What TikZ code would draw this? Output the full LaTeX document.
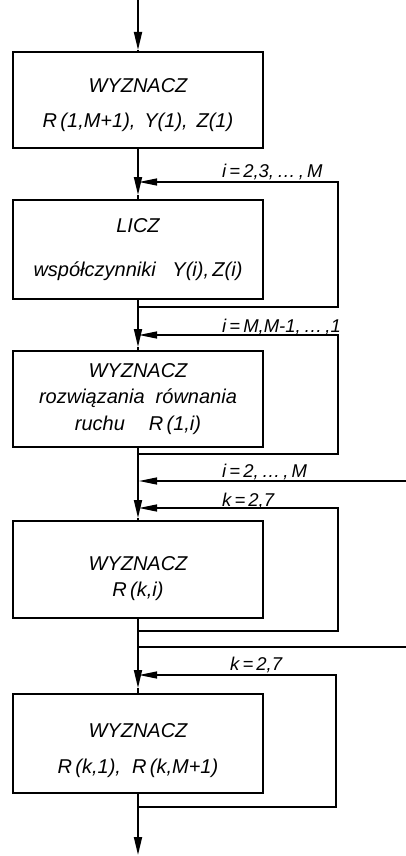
\documentclass[tikz,border=0pt]{standalone}
\usepackage{fontspec}
\setmainfont{Liberation Sans}
\usetikzlibrary{arrows.meta}
\begin{document}
\begin{tikzpicture}[x=1pt,y=-1pt,
  box/.style={draw,line width=2.2pt,minimum width=250pt,inner sep=0pt},
  txt/.style={align=center,inner sep=0pt,font=\fontsize{20}{24}\selectfont\itshape},
  mainline/.style={line width=1.8pt},
  loopline/.style={line width=1.3pt},
  dtip/.style={-{Triangle[length=18pt,width=8pt]}},
  ltip/.style={-{Triangle[length=18pt,width=7pt]}},
  lab/.style={font=\fontsize{18.5}{22}\selectfont\itshape,anchor=base west,inner sep=0pt}]
\useasboundingbox (0,0) rectangle (406,856);

% boxes
\node[box,minimum height=96pt] (b1) at (138,100) {};
\node[txt] (t1) at (138,105) {WYZNACZ\\[10.5pt] R\,(1,M+1),\, Y(1),\, Z(1)};
\node[box,minimum height=99pt] (b2) at (138,249.5) {};
\node[txt] (t2) at (138,249.5) {LICZ\\[20pt] współczynniki\ \ \ Y(i),\,Z(i)};
\node[box,minimum height=96pt] (b3) at (138,399) {};
\node[txt] (t3) at (138,399) {WYZNACZ\\[2.5pt] rozwiązania\ \ równania\\[2.5pt] ruchu\hspace{24pt}R\,(1,i)};
\node[box,minimum height=97pt] (b4) at (138,569.5) {};
\node[txt] (t4) at (138,579) {WYZNACZ\\[2pt] R\,(k,i)};
\node[box,minimum height=99pt] (b5) at (138,743.5) {};
\node[txt] (t5) at (138,751) {WYZNACZ\\[12pt] R\,(k,1),\ \ R\,(k,M+1)};

% coordinates on the main line
\coordinate (top) at (138,0);
\coordinate (t0) at (138,50);
\coordinate (j1) at (138,195);
\coordinate (j2) at (138,347);
\coordinate (j3) at (138,518);
\coordinate (j4) at (138,688);
\coordinate (bot) at (138,855);

% main flow
\draw[mainline,dtip] (top) -- (t0);
\draw[mainline] (t0) -- (b1.north);
\draw[mainline,dtip] (b1.south) -- (j1);
\draw[mainline] (j1) -- (b2.north);
\draw[mainline,dtip] (b2.south) -- (j2);
\draw[mainline] (j2) -- (b3.north);
\draw[mainline,dtip] (b3.south) -- (j3);
\draw[mainline] (j3) -- (b4.north);
\draw[mainline,dtip] (b4.south) -- (j4);
\draw[mainline] (j4) -- (b5.north);
\draw[mainline,dtip] (b5.south) -- (bot);

% loop 1
\coordinate (l1s) at (138,307);
\coordinate (l1e) at (139,182);
\draw[loopline,ltip] (l1s) -- (338,307) -- (338,182) -- (l1e);
\node[lab] (lab1) at (222,177) {i\,=\,2,3,\,…\,,\,M};

% loop 2
\coordinate (l2s) at (138,454);
\coordinate (l2e) at (139,335);
\draw[loopline,ltip] (l2s) -- (338,454) -- (338,335) -- (l2e);
\node[lab] (lab2) at (222,332) {i\,=\,M,M-1,\,…\,,1};

% loop 3 (outer)
\coordinate (l3e) at (139,481);
\coordinate (l3in) at (406,481);
\coordinate (l3s) at (138,647);
\coordinate (l3out) at (406,647);
\draw[loopline,ltip] (l3in) -- (l3e);
\draw[loopline] (l3s) -- (l3out);
\node[lab] (lab3) at (222,477) {i\,=\,2,\,…\,,\,M};

% loop 4
\coordinate (l4s) at (138,631);
\coordinate (l4e) at (139,508);
\draw[loopline,ltip] (l4s) -- (338,631) -- (338,508) -- (l4e);
\node[lab] (lab4) at (222,506) {k\,=\,2,7};

% loop 5
\coordinate (l5s) at (138,807);
\coordinate (l5e) at (139,675);
\draw[loopline,ltip] (l5s) -- (336,807) -- (336,675) -- (l5e);
\node[lab] (lab5) at (230,670) {k\,=\,2,7};
\end{tikzpicture}
\end{document}
